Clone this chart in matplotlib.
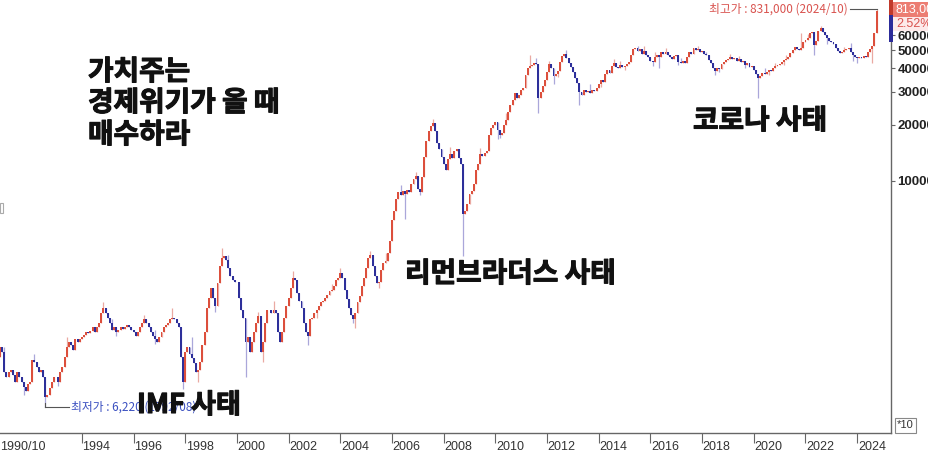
import matplotlib.pyplot as plt
import matplotlib.patheffects as pe
from matplotlib.patches import Rectangle
from matplotlib.ticker import NullLocator, NullFormatter
import numpy as np

KR = ['Noto Sans CJK KR', 'DejaVu Sans']

# monthly closes (won), 1990/10 .. 2024/10
c1990 = [11400, 12900, 12200]
c1991 = [9500, 9000, 9500, 9800, 9200, 8400, 9500, 9000, 8400, 7900, 7500, 8200]
c1992 = [8400, 11000, 10800, 10100, 9500, 9800, 9000, 7000, 7200, 7800, 8400, 9000]
c1993 = [9000, 8400, 9500, 10100, 11400, 12900, 13700, 13200, 12500, 14200, 13700, 14200]
c1994 = [14600, 15000, 15500, 15300, 15800, 16500, 15500, 16500, 17500, 19800, 21000, 19800]
c1995 = [18600, 17500, 15900, 16500, 15500, 15900, 16500, 16100, 16500, 16900, 16500, 15900]
c1996 = [15500, 14900, 15500, 16500, 17500, 18200, 17500, 16500, 15500, 14900, 14200, 13700]
c1997 = [14600, 15500, 16500, 16900, 17500, 18200, 18600, 18200, 17500, 16500, 11400, 8400]
c1998 = [12200, 12900, 11900, 11300, 10600, 9500, 9800, 10800, 13200, 15500, 21000, 23800]
c1999 = [26800, 23800, 21500, 28500, 35000, 38700, 39500, 38000, 34200, 31000, 29500, 28800]
c2000 = [29000, 23800, 20300, 18600, 13700, 14600, 12200, 13700, 15500, 17500, 19000, 12200]
c2001 = [13700, 17500, 20300, 20300, 19800, 20300, 19800, 15500, 13700, 15500, 18600, 21500]
c2002 = [23800, 26800, 30300, 29500, 25200, 22900, 21000, 17500, 15500, 14900, 18200, 18600]
c2003 = [19800, 20300, 21500, 22400, 22900, 23800, 24700, 25700, 26200, 27500, 29500, 30300]
c2004 = [32200, 30300, 26200, 23300, 21000, 19300, 18200, 19800, 22400, 24400, 27500, 30300]
c2005 = [34200, 38700, 40000, 35000, 31000, 28500, 29000, 33400, 36400, 37500, 41100, 48000]
c2006 = [61500, 69500, 80300, 87500, 84000, 88700, 85400, 89600, 87500, 96500, 102500, 106000]
c2007 = [90700, 87500, 105000, 134000, 163000, 184000, 197000, 205000, 184000, 160000, 147700, 134000]
c2008 = [123000, 114000, 130700, 139000, 133000, 144500, 147700, 133000, 123000, 67000, 69400, 75600]
c2009 = [85400, 88700, 96500, 114000, 123000, 139000, 135600, 141000, 144500, 177000, 192000, 200000]
c2010 = [208000, 188000, 177000, 181500, 200000, 212800, 234500, 255500, 271500, 296000, 278000, 288600]
c2011 = [306700, 314000, 368000, 402000, 412000, 416000, 425000, 420000, 278000, 300000, 322000, 346500]
c2012 = [381000, 420000, 402000, 364000, 372000, 386000, 431000, 464000, 475000, 453000, 425000, 407000]
c2013 = [381000, 355000, 334000, 300000, 288600, 306700, 300000, 303000, 296000, 306700, 303000, 314000]
c2014 = [330000, 346500, 340000, 372000, 391400, 380000, 412000, 425000, 405000, 402000, 415000, 405000]
c2015 = [412000, 420000, 431000, 470000, 505000, 512000, 493000, 505000, 480000, 493000, 470000, 458000]
c2016 = [436000, 431000, 458000, 470000, 460000, 488000, 475000, 492000, 470000, 458000, 450000, 464000]
c2017 = [470000, 431000, 425000, 440000, 430000, 458000, 488000, 478000, 512000, 500000, 505000, 490000]
c2018 = [493000, 480000, 470000, 442000, 430000, 402000, 386000, 400000, 395000, 420000, 431000, 442000]
c2019 = [447000, 458000, 450000, 453000, 440000, 447000, 432000, 436000, 418000, 425000, 408000, 412000]
c2020 = [391400, 372000, 355000, 364000, 378000, 372000, 381000, 392000, 386000, 402000, 412000, 416000]
c2021 = [420000, 431000, 442000, 447000, 458000, 481000, 499000, 518000, 505000, 499000, 512000, 551000]
c2022 = [570000, 585000, 617000, 630000, 531000, 564000, 637000, 654000, 630000, 606000, 585000, 564000]
c2023 = [551000, 537000, 512000, 493000, 481000, 488000, 499000, 505000, 512000, 488000, 470000, 458000]
c2024 = [453000, 458000, 453000, 464000, 458000, 488000, 505000, 524000, 617000, 813000]

# visible wicks
wick_highs = {
    "1991/01": 12900, "1992/03": 11900, "1993/06": 14600, "1994/11": 22400,
    "1995/03": 18200, "1996/06": 19300, "1996/11": 16000, "1997/07": 21000,
    "1998/04": 14600, "1999/06": 43700, "1999/09": 40000, "2000/11": 20000,
    "2001/06": 22900, "2002/03": 33000, "2003/09": 28000, "2004/01": 34200,
    "2005/03": 42000, "2005/10": 41100, "2006/05": 95000, "2006/12": 112000,
    "2007/08": 215000, "2008/04": 152000, "2009/06": 150000, "2010/06": 232000,
    "2011/05": 470000, "2011/08": 455000, "2012/02": 440000, "2012/10": 499000,
    "2013/09": 330000, "2014/08": 450000, "2014/11": 440000, "2015/07": 530000,
    "2015/10": 530000, "2016/03": 488000, "2016/08": 512000, "2017/03": 455000,
    "2017/11": 530000, "2018/03": 490000, "2019/02": 475000, "2019/06": 465000,
    "2020/06": 400000, "2020/11": 430000, "2021/04": 470000, "2021/11": 620000,
    "2022/02": 610000, "2022/08": 677000, "2023/03": 540000, "2023/07": 520000,
    "2023/10": 545000, "2024/10": 831000,
}
wick_lows = {
    "1991/10": 7200, "1992/08": 6220, "1993/02": 8000, "1995/05": 14900,
    "1996/11": 13500, "1997/12": 7700, "1998/07": 8400, "1999/03": 20000,
    "2000/05": 8960, "2001/01": 10800, "2002/10": 13200, "2003/02": 18600,
    "2004/07": 17500, "2004/08": 16300, "2005/07": 26800, "2006/02": 64000,
    "2006/07": 63000, "2007/02": 84000, "2008/10": 39500, "2009/01": 80000,
    "2010/02": 166800, "2010/03": 170000, "2011/09": 230000, "2012/04": 330000,
    "2012/06": 360000, "2013/04": 255500, "2014/02": 320000, "2015/01": 390000,
    "2016/02": 410000, "2016/05": 400000, "2017/02": 415000, "2018/07": 370000,
    "2018/09": 385000, "2019/09": 400000, "2020/03": 278000, "2020/08": 370000,
    "2021/03": 415000, "2022/05": 470000, "2022/11": 540000, "2023/11": 440000,
    "2024/01": 430000, "2024/08": 430000,
}

years = list(range(1994, 2025, 2))
y_ticks = [100000, 200000, 300000, 400000, 500000, 600000]
y_labels = ["10000", "20000", "30000", "40000", "50000", "60000"]

max_txt = "최고가 : 831,000 (2024/10)"
min_txt = "최저가 : 6,220 (1992/08)"


def month_index(s):
    yy, mm = map(int, s.split("/"))
    return (yy - 1990) * 12 + (mm - 10)


closes = np.array(c1990 + c1991 + c1992 + c1993 + c1994 + c1995 + c1996 + c1997 +
                  c1998 + c1999 + c2000 + c2001 + c2002 + c2003 + c2004 + c2005 +
                  c2006 + c2007 + c2008 + c2009 + c2010 + c2011 + c2012 + c2013 +
                  c2014 + c2015 + c2016 + c2017 + c2018 + c2019 + c2020 + c2021 +
                  c2022 + c2023 + c2024, dtype=float)
opens = np.r_[closes[0], closes[:-1]]
x = np.arange(len(closes))
highs = np.maximum(opens, closes)
lows = np.minimum(opens, closes)
for k, v in wick_highs.items():
    i = month_index(k)
    highs[i] = max(highs[i], v)
for k, v in wick_lows.items():
    i = month_index(k)
    lows[i] = min(lows[i], v)
up = closes >= opens

fig = plt.figure(figsize=(9.4, 4.68), dpi=100)
W, H = 940, 468
ax = fig.add_axes([0, 35 / H, 891 / W, 433 / H])

ax.vlines(x[up], lows[up], highs[up], color='#eaa9a2', lw=0.9, zorder=1)
ax.vlines(x[~up], lows[~up], highs[~up], color='#aaa7da', lw=0.9, zorder=1)
ax.bar(x[up], closes[up] - opens[up], bottom=opens[up], width=0.9,
       color='#dc4f3c', lw=0, zorder=2)
ax.bar(x[~up], opens[~up] - closes[~up], bottom=closes[~up], width=0.9,
       color='#2d2f9a', lw=0, zorder=2)

ax.set_yscale('log')
ax.set_xlim(1.0, 414.7)
ax.set_ylim(4490, 928800)

for s in ['top', 'left']:
    ax.spines[s].set_visible(False)
for s in ['bottom', 'right']:
    ax.spines[s].set_color('#666666')
    ax.spines[s].set_linewidth(1)

# y axis on the right
ax.yaxis.tick_right()
ax.yaxis.set_minor_locator(NullLocator())
ax.yaxis.set_minor_formatter(NullFormatter())
ax.set_yticks(y_ticks)
ax.set_yticklabels(y_labels, family='Liberation Sans', fontsize=9.5,
                   fontweight='bold', color='#222222')
ax.tick_params(axis='y', length=3, width=0.8, color='#666666', pad=1.5)

# x axis
tick_pos = [month_index(f"{yy}/01") for yy in years]
ax.set_xticks(tick_pos)
ax.set_xticklabels([])
ax.tick_params(axis='x', length=7, width=0.8, color='#666666', direction='out')
for p, yy in zip(tick_pos, years):
    ax.text(p + 0.3, -14 / 433, str(yy), transform=ax.get_xaxis_transform(),
            ha='left', va='center', fontsize=9, family='Liberation Sans', color='#333333')
ax.text(0.0, -14 / 433, "1990/10", transform=ax.transAxes, ha='left', va='center',
        fontsize=9, family='Liberation Sans', color='#333333')

# high / low annotations
i_min = month_index("1992/08")
ax.plot([i_min, i_min + 11], [wick_lows["1992/08"]] * 2, color='#555555', lw=0.8, zorder=3)
ax.plot([i_min, i_min], [wick_lows["1992/08"], 6500], color='#555555', lw=0.8, zorder=3)
ax.text(i_min + 11.8, wick_lows["1992/08"], min_txt, ha='left', va='center',
        fontsize=8.5, color='#3a4fc0', family=KR, zorder=3)
i_max = month_index("2024/10")
ax.plot([i_max - 12.5, i_max], [wick_highs["2024/10"]] * 2, color='#555555', lw=0.8, zorder=3)
ax.text(i_max - 13.2, wick_highs["2024/10"], max_txt, ha='right', va='center',
        fontsize=8.5, color='#d9534f', family=KR, zorder=3)


def fx(px):
    return px / W


def fy(py):
    return 1 - py / H


# big captions (thin stroke for a heavier look)
heavy = [pe.withStroke(linewidth=0.8, foreground='#111111')]
big = dict(family=KR, fontweight='bold', color='#111111', va='center', ha='left',
           path_effects=heavy)
fig.text(fx(88), fy(72), "가치주는", fontsize=20, **big)
fig.text(fx(88), fy(103), "경제위기가 올 때", fontsize=20, **big)
fig.text(fx(88), fy(135), "매수하라", fontsize=20, **big)
fig.text(fx(405), fy(274), "리먼브라더스 사태", fontsize=20, **big)
fig.text(fx(693), fy(121), "코로나 사태", fontsize=20, **big)
fig.text(fx(137), fy(405), "IMF 사태", fontsize=19.5, **big)

# current price boxes at the top right
fig.patches.append(Rectangle((fx(889), fy(15)), 4 / W, 15 / H, transform=fig.transFigure,
                             fc='#c0392b', ec='none', zorder=4))
fig.patches.append(Rectangle((fx(889), fy(42)), 4 / W, 27 / H, transform=fig.transFigure,
                             fc='#2c2c9a', ec='none', zorder=4))
fig.patches.append(Rectangle((fx(893), fy(17)), 40 / W, 15 / H, transform=fig.transFigure,
                             fc='#ec7d72', ec='none', zorder=4))
fig.text(fx(896), fy(9.5), "813,000", color='white', fontsize=9, family='Liberation Sans',
         va='center', ha='left', zorder=5)
fig.patches.append(Rectangle((fx(893), fy(31)), 40 / W, 14 / H, transform=fig.transFigure,
                             fc='#fdeaea', ec='none', zorder=4))
fig.text(fx(896), fy(24), "2.52%", color='#d9534f', fontsize=9, family='Liberation Sans',
         va='center', ha='left', zorder=5)

# unit box
fig.patches.append(Rectangle((fx(895), fy(433)), 21 / W, 15 / H, transform=fig.transFigure,
                             fc='white', ec='#888888', lw=0.8, zorder=4))
fig.text(fx(905.5), fy(425.5), "*10", fontsize=8, family='Liberation Sans',
         color='#333333', ha='center', va='center', zorder=5)

# small handle on the left edge
fig.patches.append(Rectangle((0, fy(213)), 3 / W, 10 / H, transform=fig.transFigure,
                             fc='none', ec='#aaaaaa', lw=0.8, zorder=4))

# widget edge cuts off the labels
fig.patches.append(Rectangle((fx(928), 0), 12 / W, 1, transform=fig.transFigure,
                             fc='white', ec='none', zorder=10))

fig.savefig('out.png', dpi=100)
